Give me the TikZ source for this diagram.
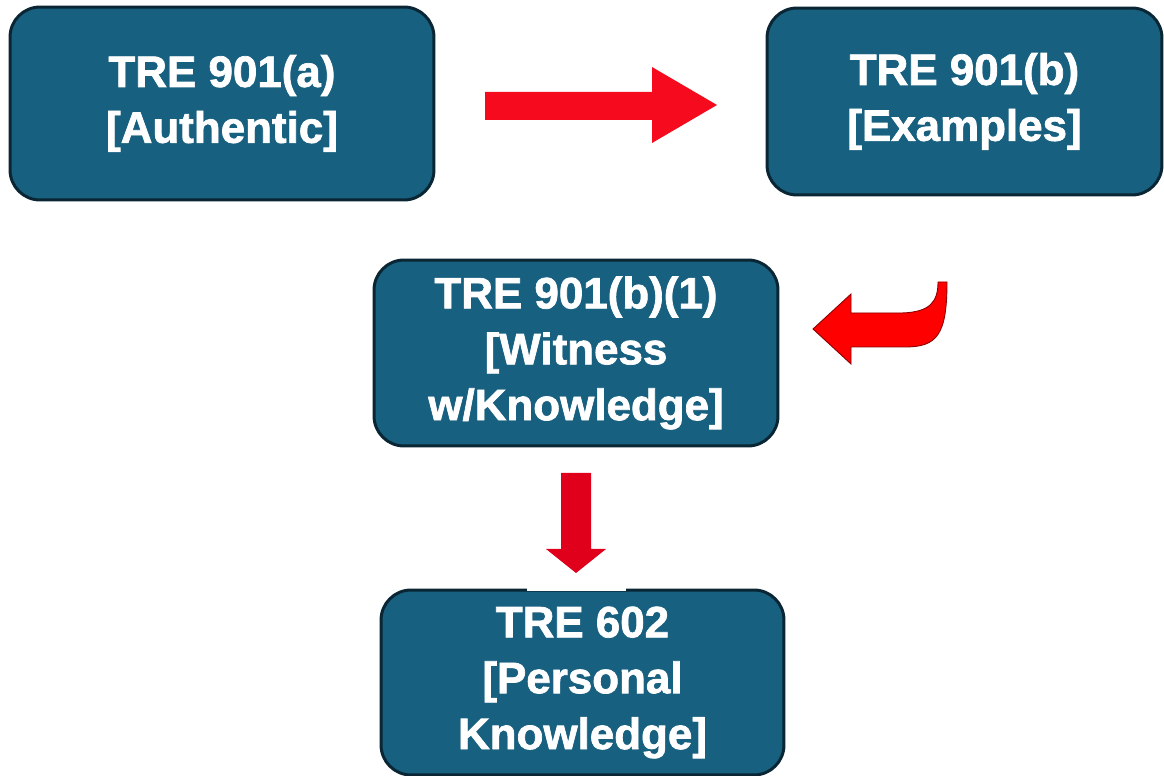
\documentclass[tikz,border=0pt]{standalone}
\usepackage{fontspec}
\setmainfont{Liberation Sans}[BoldFeatures={FakeBold=1.6}]
\definecolor{boxblue}{RGB}{24,96,128}
\definecolor{boxedge}{RGB}{10,38,52}
\definecolor{arrowred}{RGB}{245,10,30}
\definecolor{downred}{RGB}{225,0,28}
\definecolor{hookred}{RGB}{255,0,0}
\definecolor{hookedge}{RGB}{140,0,0}

\begin{document}
\begin{tikzpicture}[x=0.02cm, y=-0.02cm, every node/.style={font=\bfseries\fontsize{25}{31.8}\selectfont, text=white, align=center}]
	\tikzset{rulebox/.style={draw=boxedge, line width=1.7pt, fill=boxblue, rounded corners=0.6cm, inner sep=0pt}}
	\useasboundingbox (0,0) rectangle (1164,776);
	
	\node[rulebox, minimum width=8.48cm, minimum height=3.86cm] (auth) at (222,103.5) {TRE 901(a)\\{[Authentic]}};
	\node[rulebox, minimum width=7.9cm, minimum height=3.74cm] (exam) at (964.5,101.5) {TRE 901(b)\\{[Examples]}};
	\node[rulebox, minimum width=8.08cm, minimum height=3.72cm] (witn) at (576,353) {TRE 901(b)(1)\\{[Witness}\\w/Knowledge]};
	\node[rulebox, minimum width=8.06cm, minimum height=3.7cm] (pers) at (582.5,682.5) {TRE 602\\{[Personal}\\Knowledge]};
	
	\fill[arrowred] (485,92) -- (652,92) -- (652,67) -- (717,105) -- (652,143) -- (652,120) -- (485,120) -- cycle;
	
	\filldraw[fill=hookred, draw=hookedge, line width=0.5pt] (813,329) -- (851,294) -- (851,313) -- (902,313)
		.. controls (930,312) and (938,302) .. (938,282) -- (947,282)
		.. controls (947,335) and (937,347) .. (905,347) -- (851,347) -- (851,364) -- cycle;
	
	\fill[downred] (561,473) -- (591,473) -- (591,549) -- (606,549) -- (576,573) -- (546,549) -- (561,549) -- cycle;
	\fill[white] (527,578) rectangle (626,591.5);
\end{tikzpicture}
\end{document}
